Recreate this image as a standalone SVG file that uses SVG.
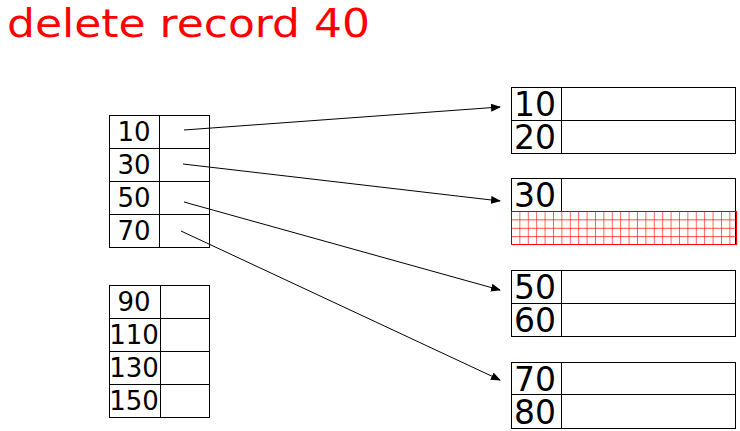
<svg xmlns="http://www.w3.org/2000/svg" width="740" height="431" viewBox="0 0 740 431">
<style>
.box{fill:#fff;stroke:#000;stroke-width:1}
.ln{stroke:#000;stroke-width:1;fill:none}
.idx{font-family:"DejaVu Sans",sans-serif;font-size:26px;fill:#000;text-anchor:middle}
.dat{font-family:"DejaVu Sans",sans-serif;font-size:33px;fill:#000}
.title{font-family:"DejaVu Sans",sans-serif;font-size:39px;fill:#ff0000}
.conn{stroke:#000;stroke-width:1;fill:none;marker-end:url(#ah)}
</style>
<defs>
<marker id="ah" markerWidth="10" markerHeight="8" refX="9" refY="4" orient="auto" markerUnits="userSpaceOnUse">
<path d="M0,0 L10,4 L0,8 Z" fill="#000"/>
</marker>
<pattern id="grid" x="511" y="211" width="8.4" height="8.4" patternUnits="userSpaceOnUse">
<path d="M0,0 V8.4 M0,0 H8.4" stroke="#ff0000" stroke-width="1.2" fill="none"/>
</pattern>
</defs>
<text class="title" x="7" y="37" textLength="363" lengthAdjust="spacingAndGlyphs">delete record 40</text>
<g id="index1">
<rect class="box" x="109.5" y="115.5" width="100" height="132"/>
<path class="ln" d="M109.5,148.5 H209.5 M109.5,181.5 H209.5 M109.5,214.5 H209.5 M159.5,115.5 V247.5"/>
<text class="idx" x="134" y="141">10</text>
<text class="idx" x="134" y="174">30</text>
<text class="idx" x="134" y="207">50</text>
<text class="idx" x="134" y="240">70</text>
</g>
<g id="index2">
<rect class="box" x="109.5" y="285.5" width="100" height="132"/>
<path class="ln" d="M109.5,318.5 H209.5 M109.5,351.5 H209.5 M109.5,384.5 H209.5 M160.5,285.5 V417.5"/>
<text class="idx" x="134" y="311">90</text>
<text class="idx" x="134" y="344">110</text>
<text class="idx" x="134" y="377">130</text>
<text class="idx" x="134" y="410">150</text>
</g>
<g id="block1">
<rect class="box" x="511.5" y="87.5" width="224" height="66"/>
<path class="ln" d="M511.5,120.5 H735.5 M561.5,87.5 V153.5"/>
<text class="dat" x="514" y="116">10</text>
<text class="dat" x="514" y="149">20</text>
</g>
<g id="block2">
<rect class="box" x="511.5" y="178.5" width="224" height="66"/>
<path class="ln" d="M511.5,211.5 H735.5 M561.5,178.5 V211.5"/>
<text class="dat" x="514" y="207">30</text>
<rect x="511" y="211" width="226" height="34" fill="url(#grid)"/>
<path d="M736.5,211 V245 M511,244.5 H737" stroke="#ff0000" stroke-width="1.2" fill="none"/>
</g>
<g id="block3">
<rect class="box" x="511.5" y="270.5" width="224" height="66"/>
<path class="ln" d="M511.5,303.5 H735.5 M561.5,270.5 V336.5"/>
<text class="dat" x="514" y="299">50</text>
<text class="dat" x="514" y="332">60</text>
</g>
<g id="block4">
<rect class="box" x="511.5" y="362.5" width="224" height="66"/>
<path class="ln" d="M511.5,394.5 H735.5 M561.5,362.5 V428.5"/>
<text class="dat" x="514" y="391">70</text>
<text class="dat" x="514" y="424">80</text>
</g>
<g id="connectors">
<line class="conn" x1="184" y1="130" x2="500" y2="107"/>
<line class="conn" x1="183" y1="164" x2="500" y2="201"/>
<line class="conn" x1="184" y1="202" x2="500" y2="290"/>
<line class="conn" x1="181" y1="231" x2="500" y2="380"/>
</g>
</svg>
